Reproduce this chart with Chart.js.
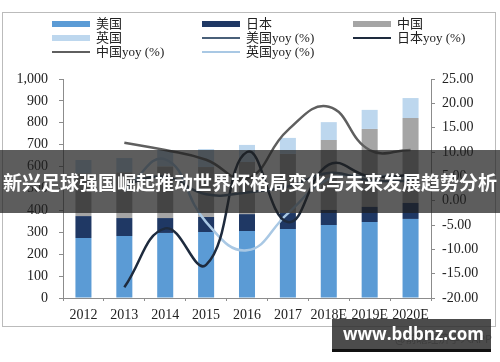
<!DOCTYPE html>
<html>
<head>
<meta charset="utf-8">
<script src="https://cdn.jsdelivr.net/npm/chart.js"></script>
<style>
  html, body { margin: 0; padding: 0; background: #fff; }
  #wrap { position: relative; width: 500px; height: 362px; overflow: hidden; }
  #frame { position: absolute; left: 2px; top: 12px; width: 494px; height: 315px; border: 1px solid #bbb; box-sizing: border-box; }
  canvas { position: absolute; left: 0; top: 0; }
  #legend { position: absolute; left: 0; top: 17px; width: 500px; font: 13px "Liberation Serif", "Noto Sans CJK SC", serif; color: #222; }
  .item { position: absolute; height: 14px; line-height: 14px; white-space: nowrap; }
  .sw { position: absolute; left: 0; width: 38px; }
  .lbl { position: absolute; left: 44px; top: 0; }
  #banner { position: absolute; left: 0; top: 150px; width: 500px; height: 63px; background: rgba(30,30,30,0.72);
            color: #fff; font: bold 19px "Noto Sans CJK SC", sans-serif; line-height: 63px; white-space: nowrap; padding-left: 3px; box-sizing: border-box; }
  #site { position: absolute; left: 332px; top: 319px; width: 159px; height: 33px; background: rgba(45,45,45,0.85);
          border-bottom: 3px solid #111; box-sizing: border-box; color: #fff; font: bold 17px "Open Sans", "DejaVu Sans", sans-serif;
          line-height: 30px; padding-left: 11px; white-space: nowrap; overflow: hidden; }
  #app { position: absolute; left: 395px; top: 330px; color: #999; font: 11px "Noto Sans CJK SC", sans-serif; }
</style>
</head>
<body>
<div id="wrap">
  <div id="frame"></div>
  <canvas id="chart" width="500" height="362"></canvas>
  <div id="legend"></div>
  <div id="banner">新兴足球强国崛起推动世界杯格局变化与未来发展趋势分析</div>
  <div id="app">@前瞻经济学人APP</div>
  <div id="site">www.bdbnz.com</div>
</div>
<script>
// categories
const years = ['2012', '2013', '2014', '2015', '2016', '2017', '2018E', '2019E', '2020E'];

// bar values (left axis)
const usa = [274, 283, 297, 301, 306, 315, 333, 347, 361];
const japan = [100, 82, 68, 69, 77, 73, 69, 69, 73];
const china = [194, 208, 236, 228, 238, 270, 319, 356, 388];
const uk = [62, 66, 75, 82, 78, 73, 82, 87, 91];

// yoy values in % (right axis)
const usaYoy = [null, 3.3, 4.9, 1.3, 1.7, 2.9, 5.7, 4.2, 4.0];
const japanYoy = [null, -17.8, -5.7, -13.2, 10.0, -4.4, 7.4, 5.0, 5.2];
const chinaYoy = [null, 11.9, 10.4, 8.4, 4.5, 14.5, 19.3, 10.4, 10.4];
const ukYoy = [null, 2.0, 8.5, -4.4, -10.2, -2.6, 4.5, 5.0, 5.0];

const tickFont = { family: 'Liberation Serif', size: 14 };
const axisGray = '#8c8c8c';

function bar(label, data, color) {
  return { type: 'bar', label, data, backgroundColor: color, yAxisID: 'y', order: 2,
           barPercentage: 0.49, categoryPercentage: 0.8 };
}
function line(label, data, color) {
  return { type: 'line', label, data, borderColor: color, backgroundColor: color, yAxisID: 'y1', order: 1,
           borderWidth: 2.5, pointRadius: 0, tension: 0.45, spanGaps: true, fill: false };
}

const chart = new Chart(document.getElementById('chart'), {
  data: {
    labels: years,
    datasets: [
      bar('美国', usa, '#5b9bd5'),
      bar('日本', japan, '#1f3864'),
      bar('中国', china, '#a5a5a5'),
      bar('英国', uk, '#bdd7ee'),
      line('美国yoy (%)', usaYoy, '#4a6079'),
      line('日本yoy (%)', japanYoy, '#1e2b3e'),
      line('中国yoy (%)', chinaYoy, '#5f5f5f'),
      line('英国yoy (%)', ukYoy, '#a9c8e4')
    ]
  },
  options: {
    responsive: false,
    animation: false,
    layout: { padding: { top: 79, left: 0, right: 0, bottom: 0 } },
    plugins: { legend: { display: false }, tooltip: { enabled: false } },
    scales: {
      x: {
        stacked: true,
        grid: { display: true, drawOnChartArea: false, tickLength: 3, color: axisGray },
        border: { color: axisGray },
        ticks: { font: tickFont, color: '#222', padding: 6, maxRotation: 0, autoSkip: false },
        afterFit: s => { s.height = 64; }
      },
      y: {
        stacked: true,
        position: 'left',
        min: 0, max: 1000,
        grid: { display: true, drawOnChartArea: false, tickLength: 4, color: axisGray },
        border: { color: axisGray },
        ticks: { stepSize: 100, font: tickFont, color: '#222', padding: 11,
                 callback: v => v.toLocaleString('en-US') },
        afterFit: s => { s.width = 63; }
      },
      y1: {
        stacked: false,
        position: 'right',
        min: -20, max: 25,
        grid: { display: true, drawOnChartArea: false, tickLength: 4, color: axisGray },
        border: { color: axisGray },
        ticks: { stepSize: 5, font: tickFont, color: '#222', padding: 7,
                 callback: v => v.toFixed(2) },
        afterFit: s => { s.width = 69; }
      }
    }
  }
});

// legend in a 3-column grid, like the original
const legend = document.getElementById('legend');
const colX = [52, 202, 353];
const rowY = [0, 14, 28];
chart.data.datasets.forEach((ds, i) => {
  const item = document.createElement('div');
  item.className = 'item';
  item.style.left = colX[i % 3] + 'px';
  item.style.top = rowY[Math.floor(i / 3)] + 'px';
  const sw = document.createElement('div');
  sw.className = 'sw';
  if (ds.type === 'bar') {
    sw.style.top = '4px'; sw.style.height = '6px'; sw.style.background = ds.backgroundColor;
  } else {
    sw.style.top = '6px'; sw.style.height = '2px'; sw.style.background = ds.borderColor;
  }
  const lbl = document.createElement('span');
  lbl.className = 'lbl';
  lbl.textContent = ds.label;
  item.appendChild(sw);
  item.appendChild(lbl);
  legend.appendChild(item);
});
</script>
</body>
</html>
